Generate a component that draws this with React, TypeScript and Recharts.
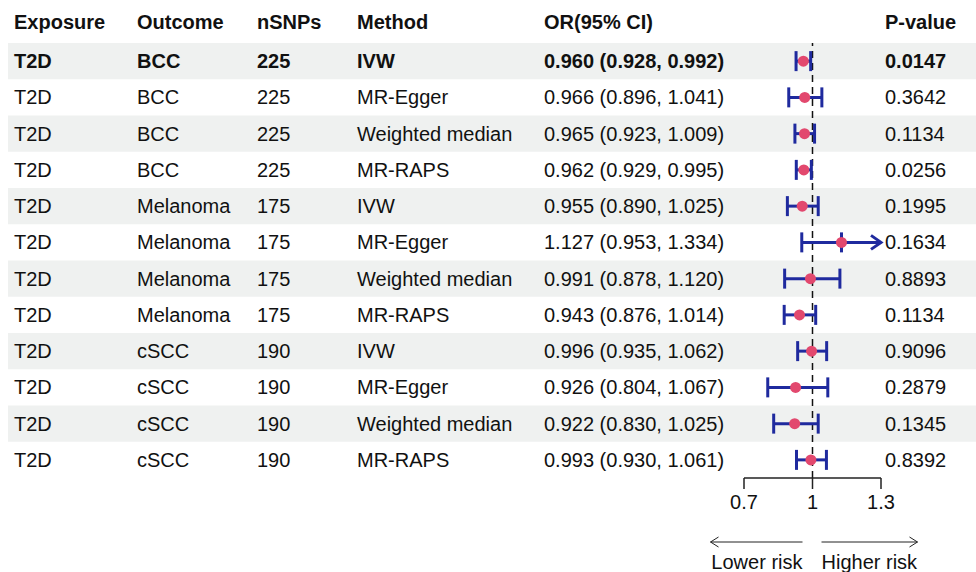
import React from 'react';
import { ComposedChart, Scatter, ErrorBar, XAxis, YAxis, ReferenceLine, ReferenceArea } from 'recharts';

const headers = ['Exposure', 'Outcome', 'nSNPs', 'Method', 'OR(95% CI)', 'P-value'];
const exposures = ['T2D', 'T2D', 'T2D', 'T2D', 'T2D', 'T2D', 'T2D', 'T2D', 'T2D', 'T2D', 'T2D', 'T2D'];
const outcomes = ['BCC', 'BCC', 'BCC', 'BCC', 'Melanoma', 'Melanoma', 'Melanoma', 'Melanoma', 'cSCC', 'cSCC', 'cSCC', 'cSCC'];
const nSNPs = ['225', '225', '225', '225', '175', '175', '175', '175', '190', '190', '190', '190'];
const methods = ['IVW', 'MR-Egger', 'Weighted median', 'MR-RAPS', 'IVW', 'MR-Egger', 'Weighted median', 'MR-RAPS', 'IVW', 'MR-Egger', 'Weighted median', 'MR-RAPS'];
const orValues = [0.960, 0.966, 0.965, 0.962, 0.955, 1.127, 0.991, 0.943, 0.996, 0.926, 0.922, 0.993];
const ciLower = [0.928, 0.896, 0.923, 0.929, 0.890, 0.953, 0.878, 0.876, 0.935, 0.804, 0.830, 0.930];
const ciUpper = [0.992, 1.041, 1.009, 0.995, 1.025, 1.334, 1.120, 1.014, 1.062, 1.067, 1.025, 1.061];
const pValues = ['0.0147', '0.3642', '0.1134', '0.0256', '0.1995', '0.1634', '0.8893', '0.1134', '0.9096', '0.2879', '0.1345', '0.8392'];
const xTicks = [0.7, 1, 1.3];

const X_MIN = 0.7;
const X_MAX = 1.3;
const WIDTH = 976;
const HEIGHT = 572;
const PLOT_LEFT = 744;
const PLOT_RIGHT = 881;
const COLUMN_X = [14, 137, 257, 357, 544, 885];
const FONT = '"Liberation Sans", Arial, sans-serif';
const TEXT = '#111';
const BLUE = '#1f2a9e';
const RED = '#e2486e';
const STRIPE = '#eff1f0';

// stripes run across the whole table, so extend them past the plot using the same px/unit
const pxPerUnit = (PLOT_RIGHT - PLOT_LEFT) / (X_MAX - X_MIN);
const stripeX1 = X_MIN - (PLOT_LEFT - 8) / pxPerUnit;
const stripeX2 = X_MAX + (WIDTH - PLOT_RIGHT) / pxPerUnit;

const rows = orValues.map((or, i) => ({
  row: i,
  or,
  // clipped intervals get an arrow instead of the upper whisker
  err: [or - ciLower[i], ciUpper[i] > X_MAX ? 0 : ciUpper[i] - or],
}));
const clipped = rows.filter((r) => ciUpper[r.row] > X_MAX);

const fmt = (v: number) => v.toFixed(3);

function RowTick({ y, payload }: any) {
  const i = payload.value;
  const cells = [
    exposures[i],
    outcomes[i],
    nSNPs[i],
    methods[i],
    `${fmt(orValues[i])} (${fmt(ciLower[i])}, ${fmt(ciUpper[i])})`,
    pValues[i],
  ];
  return (
    <g>
      {cells.map((c, k) => (
        <text key={k} x={COLUMN_X[k]} y={y} dy="0.35em" fontSize={20} fontFamily={FONT} fill={TEXT} fontWeight={i === 0 ? 'bold' : 'normal'}>
          {c}
        </text>
      ))}
    </g>
  );
}

function HeaderRow({ viewBox }: any) {
  const y = viewBox.y - 21;
  return (
    <g>
      {headers.map((h, k) => (
        <text key={h} x={COLUMN_X[k]} y={y} dy="0.35em" fontSize={20} fontFamily={FONT} fill={TEXT} fontWeight="bold">
          {h}
        </text>
      ))}
    </g>
  );
}

function RiskArrows({ viewBox }: any) {
  const mid = viewBox.x + viewBox.width / 2;
  const ay = viewBox.y + 64;
  const ty = viewBox.y + 84;
  const l1 = mid - 10, l2 = mid - 102;
  const r1 = mid + 9, r2 = mid + 105;
  return (
    <g stroke="#222" strokeWidth={1} fill="none">
      <line x1={l1} y1={ay} x2={l2} y2={ay} />
      <polyline points={`${l2 + 8},${ay - 5} ${l2},${ay} ${l2 + 8},${ay + 5}`} />
      <line x1={r1} y1={ay} x2={r2} y2={ay} />
      <polyline points={`${r2 - 8},${ay - 5} ${r2},${ay} ${r2 - 8},${ay + 5}`} />
      <text x={l1} y={ty} dy="0.35em" textAnchor="end" fontSize={20} fontFamily={FONT} fill={TEXT} stroke="none">
        Lower risk
      </text>
      <text x={r1} y={ty} dy="0.35em" textAnchor="start" fontSize={20} fontFamily={FONT} fill={TEXT} stroke="none">
        Higher risk
      </text>
    </g>
  );
}

function ArrowLine(props: any) {
  const { x1, y1, x2, y2 } = props;
  return (
    <g stroke={BLUE} strokeWidth={3} fill="none">
      <line x1={x1} y1={y1} x2={x2} y2={y2} />
      <polyline points={`${x2 - 10},${y2 - 7} ${x2},${y2} ${x2 - 10},${y2 + 7}`} strokeLinejoin="miter" />
    </g>
  );
}

const Dot = (p: any) => <circle cx={p.cx} cy={p.cy} r={5.5} fill={RED} />;

export default function App() {
  return (
    <div style={{ position: 'absolute', left: 0, top: 0, width: WIDTH, height: HEIGHT, background: '#fff' }}>
      <ComposedChart width={WIDTH} height={HEIGHT} data={rows} margin={{ top: 43, right: WIDTH - PLOT_RIGHT, bottom: 0, left: 0 }}>
        {rows
          .filter((r) => r.row % 2 === 0)
          .map((r) => (
            <ReferenceArea key={r.row} x1={stripeX1} x2={stripeX2} y1={r.row - 0.5} y2={r.row + 0.5} fill={STRIPE} fillOpacity={1} stroke="none" ifOverflow="visible" />
          ))}
        <XAxis
          type="number"
          dataKey="or"
          domain={[X_MIN, X_MAX]}
          ticks={xTicks}
          allowDataOverflow
          height={94}
          tickSize={11}
          tickMargin={6}
          axisLine={{ stroke: '#222', strokeWidth: 1.5 }}
          tickLine={{ stroke: '#222', strokeWidth: 1.5 }}
          tick={{ fontSize: 20, fontFamily: FONT, fill: TEXT }}
          label={{ content: RiskArrows }}
        />
        <YAxis
          type="number"
          dataKey="row"
          domain={[-0.5, 11.5]}
          ticks={rows.map((r) => r.row)}
          reversed
          allowDataOverflow
          width={PLOT_LEFT}
          axisLine={false}
          tickLine={false}
          tick={RowTick}
          label={{ content: HeaderRow }}
        />
        <ReferenceLine x={1} stroke="#111" strokeWidth={1.5} strokeDasharray="7 5" />
        {clipped.map((r) => (
          <ReferenceLine
            key={r.row}
            segment={[{ x: r.or, y: r.row }, { x: X_MAX, y: r.row }]}
            shape={ArrowLine}
            ifOverflow="visible"
          />
        ))}
        <Scatter dataKey="or" fill={RED} shape={Dot} isAnimationActive={false}>
          <ErrorBar dataKey="err" direction="x" width={10} strokeWidth={3} stroke={BLUE} isAnimationActive={false} />
        </Scatter>
      </ComposedChart>
    </div>
  );
}
